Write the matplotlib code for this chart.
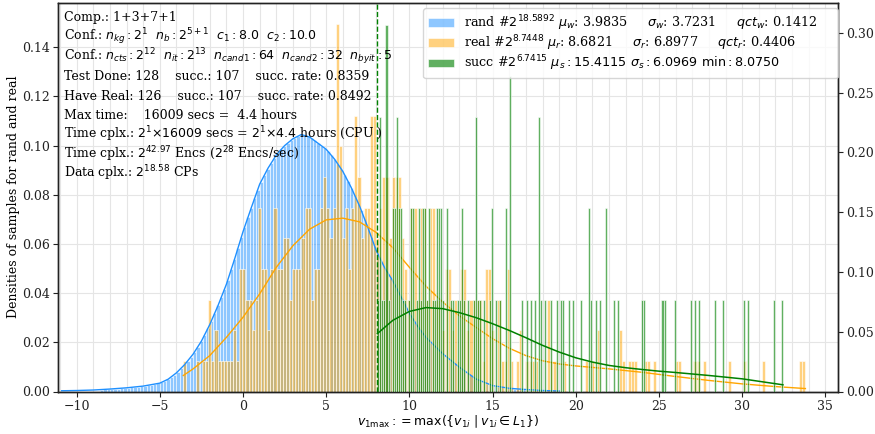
import numpy as np
import matplotlib
matplotlib.use("Agg")
import matplotlib.pyplot as plt
from matplotlib.ticker import MultipleLocator

# ---------------- data ----------------
# rand histogram (left axis, density), bins of width 0.2 from -8.6 to 19.0
rand_range = (-8.6, 19.0)
rand_density = [
    .0008, .0009, .0010,
    .0010, .0011, .0012, .0013, .0014, .0016, .0017, .0018, .0020, .0021, .0023, .0025, .0028, .0030, .0033,
    .0037, .0043, .0050, .0058, .0068, .0080, .0094, .0110, .0125, .0142,
    .0160, .0182, .0205, .0230, .0258, .0287, .0318, .0350, .0385, .0418,
    .0455, .0498, .0540, .0585, .0630, .0670, .0710, .0748, .0785, .0820,
    .0853, .0880, .0905, .0928, .0950, .0970, .0985, .0998, .1010, .1022,
    .1032, .1040, .1045, .1045, .1040, .1032, .1022, .1010, .1000, .0990,
    .0978, .0962, .0945, .0925, .0905, .0882, .0855, .0828, .0800, .0770,
    .0738, .0702, .0665, .0628, .0590, .0558, .0530, .0505, .0482, .0462,
    .0440, .0412, .0385, .0358, .0330, .0305, .0285, .0265, .0245, .0228,
    .0212, .0198, .0185, .0172, .0160, .0148, .0137, .0126, .0115, .0104,
    .0094, .0084, .0075, .0066, .0057, .0049, .0043, .0037, .0031, .0026,
    .0023, .0020, .0018, .0016, .0014, .0013, .0012, .0011, .0010, .0009,
    .0008, .0007, .0006, .0006, .0005, .0004, .0004, .0003, .0003, .0002,
]

# real histogram: 200 bins between min and max of the real samples (counts)
real_range = (-3.59, 33.80)
real_n = 2 ** 8.7448
real_counts = [
    1, 0, 0, 0, 1, 0, 1, 1, 3, 1, 2, 1, 1, 1, 1, 1, 2, 1, 4, 4,
    3, 3, 2, 3, 6, 4, 4, 2, 4, 6, 4, 4, 5, 5, 3, 4, 4, 4, 5, 6,
    6, 3, 4, 4, 6, 7, 6, 5, 6, 12, 8, 5, 6, 4, 6, 9, 7, 5, 6, 6,
    9, 9, 5, 6, 7, 7, 5, 7, 7, 7, 5, 4, 3, 6, 6, 3, 6, 6, 3, 6,
    6, 3, 3, 2, 4, 4, 2, 3, 1, 4, 4, 2, 3, 3, 3, 3, 1, 4, 4, 2,
    0, 3, 1, 1, 4, 1, 0, 1, 2, 0, 1, 1, 1, 1, 0, 0, 0, 3, 1, 1,
    0, 0, 1, 0, 0, 0, 0, 0, 0, 1, 0, 1, 0, 2, 0, 0, 0, 0, 0, 0,
    2, 1, 0, 1, 1, 1, 0, 0, 1, 1, 0, 1, 0, 0, 0, 0, 0, 0, 1, 1,
    0, 0, 0, 0, 1, 1, 0, 1, 0, 0, 0, 0, 0, 0, 0, 1, 0, 0, 0, 0,
    1, 0, 0, 0, 0, 0, 1, 0, 0, 0, 0, 0, 0, 0, 0, 0, 0, 0, 1, 1,
]

# succ histogram (right axis): 200 bins between min and max of succ samples (counts)
succ_range = (8.075, 32.47)
succ_n = 107
succ_counts = [
    1, 3, 1, 1, 4, 1, 0, 2, 2, 3, 2, 2, 1, 1, 0, 1, 2, 2, 0, 1,
    2, 1, 2, 2, 1, 2, 0, 1, 1, 2, 2, 2, 1, 0, 2, 0, 1, 1, 0, 1,
    1, 2, 1, 0, 1, 0, 0, 1, 3, 1, 1, 0, 1, 0, 0, 1, 2, 0, 1, 0,
    1, 0, 0, 2, 0, 3.45, 0, 0, 0, 0, 0, 1, 0, 1, 0, 1, 0, 1, 0, 3,
    1, 0, 1, 0, 0, 1, 0, 0, 1, 0, 1, 1, 0, 0, 1, 0, 1, 0, 0, 0,
    1, 0, 0, 0, 2, 1, 0, 1, 0, 1, 0, 0, 2, 0, 0, 0, 1, 0, 1, 0,
    0, 0, 0, 0, 0, 0, 0, 0, 0, 0, 1, 1, 0, 0, 0, 0, 0, 0, 0, 0,
    1, 1, 0, 0, 0, 0, 1, 0, 0, 0, 0, 0, 0, 0, 1, 0, 1, 0, 1, 0,
    0, 0, 0, 0, 0, 0, 1, 0, 0, 0, 1, 0, 0, 0, 0, 0, 0, 0, 0, 0,
    1, 0, 1, 0, 0, 0, 0, 0, 0, 0, 0, 0, 0, 0, 0, 1, 0, 0, 0, 1,
]
succ_min = 8.075

# fitted curves
rand_curve_x = [-10.9, -10, -9, -8, -7, -6, -5, -4.5, -4, -3.5, -3, -2.5, -2, -1.5, -1, -0.5, 0, 0.5, 1, 1.5,
                2, 2.5, 3, 3.5, 4, 4.5, 5, 5.5, 6, 6.5, 7, 7.5, 8, 8.5, 9, 9.5, 10, 10.5, 11, 12, 13, 14,
                15, 16, 17, 18, 19]
rand_curve_y = [.0003, .0004, .0006, .0010, .0015, .0022, .0034, .0050, .0076, .0110, .0152, .0205, .0272, .0350,
                .0436, .0540, .0650, .0748, .0843, .0908, .0962, .1000, .1028, .1045, .1035, .1010, .0985, .0945,
                .0895, .0830, .0755, .0668, .0574, .0505, .0450, .0385, .0318, .0265, .0220, .0154, .0099, .0051,
                .0024, .0013, .0008, .0004, .0002]
real_curve_x = [-3.59, -3, -2, -1, 0, 1, 2, 3, 4, 5, 6, 7, 8, 9, 10, 11, 12, 13, 14, 15, 16, 17, 18, 19, 20,
                22, 24, 26, 28, 30, 32, 33.8]
real_curve_y = [.0065, .0092, .0146, .0220, .0302, .0397, .0505, .0593, .0660, .0698, .0705, .0690, .0647, .0585,
                .0505, .0428, .0364, .0308, .0261, .0215, .0176, .0146, .0125, .0112, .0104, .0092, .0078, .0061,
                .0045, .0031, .0020, .0012]
succ_curve_x = [8.075, 9, 10, 11, 12, 13, 14, 15, 16, 17, 18, 19, 20, 21, 22, 23, 24, 25, 26, 28, 30, 32.45]
succ_curve_y = [.0484, .0595, .0670, .0702, .0693, .0660, .0618, .0567, .0511, .0450, .0386, .0330, .0282, .0246,
                .0218, .0199, .0184, .0170, .0159, .0134, .0106, .0056]

legend_labels = [
    r'rand #$2^{18.5892}$ $\mu_w$: 3.9835     $\sigma_w$: 3.7231     $qct_w$: 0.1412',
    r'real #$2^{8.7448}$ $\mu_r$: 8.6821     $\sigma_r$: 6.8977     $qct_r$: 0.4406',
    r'succ #$2^{6.7415}$ $\mu_s: 15.4115$ $\sigma_s: 6.0969$ $\mathrm{min}: 8.0750$',
]
info_lines = [
    'Comp.: 1+3+7+1',
    r'Conf.: $n_{kg}: 2^{1}$  $n_b: 2^{5+1}$  $c_1: 8.0$  $c_2: 10.0$',
    r'Conf.: $n_{cts}: 2^{12}$  $n_{it}: 2^{13}$  $n_{cand1}: 64$  $n_{cand2}: 32$  $n_{byit}: 5$',
    'Test Done: 128    succ.: 107    succ. rate: 0.8359',
    'Have Real: 126    succ.: 107    succ. rate: 0.8492',
    'Max time:    16009 secs =  4.4 hours',
    r'Time cplx.: $2^{1}{\times}16009$ secs = $2^{1}{\times}4.4$ hours (CPU )',
    r'Time cplx.: $2^{42.97}$ Encs ($2^{28}$ Encs/sec)',
    r'Data cplx.: $2^{18.58}$ CPs',
]
xlabel = r'$v_{1\max}: = \max(\{v_{1i}\mid v_{1i} \in L_1\})$'
ylabel = 'Densities of samples for rand and real'

# ---------------- drawing ----------------
plt.rcParams['font.family'] = ['DejaVu Serif', 'DejaVu Sans']
plt.rcParams['mathtext.fontset'] = 'dejavusans'
plt.rcParams['font.size'] = 8.5

W, H = 875, 434
fig = plt.figure(figsize=(W / 100, H / 100), dpi=100)
left_px, right_px, top_px, bot_px = 58, 838, 3, 391.5
ax = fig.add_axes([left_px / W, 1 - bot_px / H, (right_px - left_px) / W, (bot_px - top_px) / H])
ax2 = ax.twinx()

BLUE = (0.118, 0.565, 1.0, 0.5)
ORANGE = (1.0, 0.647, 0.0, 0.5)
GREEN = (0.0, 0.5, 0.0, 0.62)
EW = 0.4

e_rand = np.linspace(rand_range[0], rand_range[1], len(rand_density) + 1)
h_rand = ax.bar(e_rand[:-1], rand_density, width=np.diff(e_rand), align='edge',
                color=BLUE, edgecolor='white', linewidth=EW)

e_real = np.linspace(real_range[0], real_range[1], len(real_counts) + 1)
w_real = np.diff(e_real)
real_density = np.array(real_counts) / (real_n * w_real)
h_real = ax.bar(e_real[:-1], real_density, width=w_real, align='edge',
                color=ORANGE, edgecolor='white', linewidth=EW)

ax.plot(rand_curve_x, rand_curve_y, color='dodgerblue', lw=1.0)
ax.plot(real_curve_x, real_curve_y, color='orange', lw=1.0)

e_succ = np.linspace(succ_range[0], succ_range[1], len(succ_counts) + 1)
w_succ = np.diff(e_succ)
succ_density = np.array(succ_counts) / (succ_n * w_succ)
h_succ = ax2.bar(e_succ[:-1], succ_density, width=w_succ, align='edge',
                 color=GREEN, edgecolor='white', linewidth=EW)
ax2.plot(succ_curve_x, succ_curve_y, color='green', lw=1.1)
ax2.axvline(succ_min, color='green', ls='--', lw=1.0)

ax.set_xlim(-11.12, 35.76)
ax.set_ylim(0, 0.158)
ax2.set_ylim(0, 0.325)
ax.set_xticks(np.arange(-10, 36, 5))
ax.xaxis.set_minor_locator(MultipleLocator(1))
ax.set_yticks(np.arange(0, 0.141, 0.02))
ax2.set_yticks(np.arange(0, 0.301, 0.05))
ax.set_axisbelow(True)
ax.grid(which='major', color='#e5e5e5', lw=0.8)
ax.grid(which='minor', axis='x', color='#e5e5e5', lw=0.8)
ax.tick_params(which='minor', length=0)
for a in (ax, ax2):
    for s in a.spines.values():
        s.set_color('#222222')
        s.set_linewidth(1.0)
    a.tick_params(which='major', direction='out', length=3.5, pad=2.5, labelsize=9, colors='#222222')
ax.set_xlabel(xlabel, fontsize=9, labelpad=0.5)
ax.set_ylabel(ylabel, fontsize=9, labelpad=1)

ax2.legend([h_rand, h_real, h_succ], legend_labels, loc='upper left', mode='expand',
           bbox_to_anchor=(423 / W, 1 - 8 / H, (838 - 423) / W, 0), bbox_transform=fig.transFigure,
           borderaxespad=0, fontsize=9.2, framealpha=0.8, handlelength=2.0, labelspacing=0.05,
           borderpad=0.4, handletextpad=0.8)

line_centers = [16.7, 36, 56, 76, 95.7, 115, 134, 154, 172.7]
for yc, s in zip(line_centers, info_lines):
    fig.text(64 / W, 1 - (yc + 4.3) / H, s, ha='left', va='baseline', fontsize=9, color='black')

fig.savefig('out.png', dpi=100)
